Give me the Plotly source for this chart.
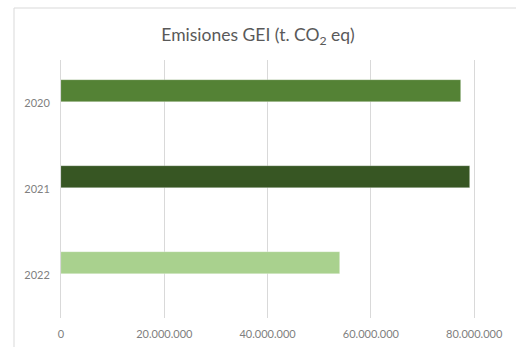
import plotly.graph_objects as go

# Emissions by year (t CO2 eq)
years = ["2020", "2021", "2022"]
emissions = [77_400_000, 79_200_000, 54_000_000]
bar_colors = ["#548235", "#375623", "#A9D18E"]
x_ticks = [0, 20_000_000, 40_000_000, 60_000_000, 80_000_000]
x_tick_labels = ["0", "20.000.000", "40.000.000", "60.000.000", "80.000.000"]

W, H = 516, 347
left, right, top, bottom = 61, 0, 60, 29
plot_w = W - left - right
plot_h = H - top - bottom
FONT = "Lato, Open Sans, Liberation Sans, sans-serif"

fig = go.Figure(
    go.Bar(
        y=years,
        x=emissions,
        orientation="h",
        marker=dict(color=bar_colors, line=dict(color="rgba(255,255,255,0.5)", width=0.6)),
        width=0.255,
        offset=-0.262,
        hoverinfo="x+y",
    )
)

# light chart-area frame running off the right and bottom edges
fig.add_shape(
    type="rect", xref="paper", yref="paper",
    x0=(14 - left) / plot_w, x1=1.2,
    y0=-0.3, y1=(H - bottom - 8) / plot_h,
    line=dict(color="#D9D9D9", width=1), fillcolor="rgba(0,0,0,0)", layer="below",
)

fig.update_layout(
    width=W, height=H,
    margin=dict(l=left, r=right, t=top, b=bottom),
    paper_bgcolor="white", plot_bgcolor="white",
    showlegend=False,
    bargap=0,
    title=dict(
        text="Emisiones GEI (t. CO<sub>2</sub> eq)",
        x=0.5, xref="container", xanchor="center",
        y=1 - 35 / H, yref="container", yanchor="middle",
        font=dict(family=FONT, size=17.5, color="#595959"),
    ),
    xaxis=dict(
        range=[0, 88_100_000],
        tickvals=x_ticks, ticktext=x_tick_labels,
        showgrid=True, gridcolor="#D9D9D9", gridwidth=1,
        zeroline=False, showline=False, ticks="",
        ticklabelstandoff=8,
        tickfont=dict(family=FONT, size=11, color="#808080"),
        fixedrange=True,
    ),
    yaxis=dict(
        categoryorder="array", categoryarray=years,
        autorange="reversed",
        showgrid=False, zeroline=False,
        showline=True, linecolor="#D9D9D9", linewidth=1,
        ticks="", ticklabelstandoff=8,
        tickfont=dict(family=FONT, size=11, color="#808080"),
        fixedrange=True,
    ),
)

fig.write_html("out.html")
